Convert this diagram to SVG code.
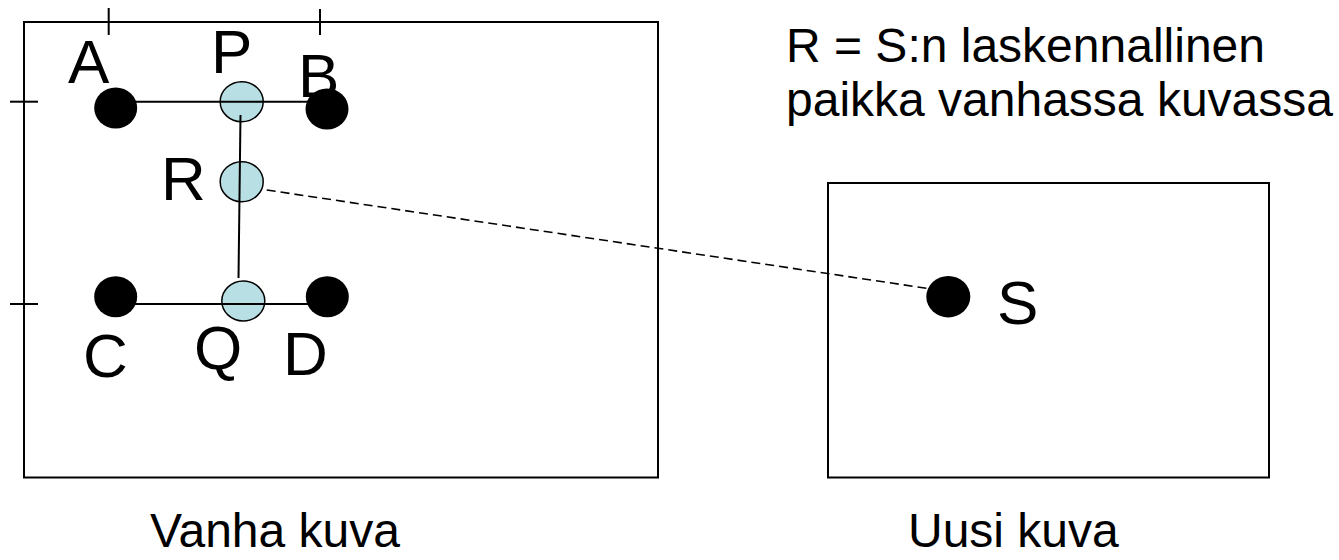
<svg xmlns="http://www.w3.org/2000/svg" width="1339" height="560" viewBox="0 0 1339 560">
  <style>
    .frame { fill: none; stroke: #000; stroke-width: 2; }
    .tick { stroke: #000; stroke-width: 2; }
    .link { stroke: #000; stroke-width: 2; fill: none; }
    .dash { stroke: #000; stroke-width: 1.6; fill: none; stroke-dasharray: 9 5; }
    .pt { fill: #000; }
    .ip { fill: #b8dfe3; stroke: #000; stroke-width: 1.5; }
    .lbl { font-family: "Liberation Sans", Arial, sans-serif; font-size: 62px; fill: #000; }
    .cap { font-family: "Liberation Sans", Arial, sans-serif; font-size: 48px; fill: #000; }
  </style>

  <!-- image frames -->
  <g id="old-image">
    <rect class="frame" x="24" y="22" width="634" height="455.5"/>
    <line class="tick" x1="108.7" y1="8" x2="108.7" y2="35"/>
    <line class="tick" x1="320" y1="9" x2="320" y2="35"/>
    <line class="tick" x1="10" y1="101.7" x2="38" y2="101.7"/>
    <line class="tick" x1="10" y1="304" x2="38" y2="304"/>
  </g>
  <g id="new-image">
    <rect class="frame" x="828" y="183" width="441" height="294.5"/>
  </g>

  <!-- interpolation points under the connectors -->
  <g id="node-P"><ellipse class="ip" cx="241.7" cy="101.7" rx="21.5" ry="20"/></g>
  <g id="node-R"><ellipse class="ip" cx="241.7" cy="181.7" rx="21.5" ry="20"/></g>
  <g id="node-Q"><ellipse class="ip" cx="243.3" cy="301" rx="21.5" ry="20"/></g>

  <g id="connectors">
    <line class="link" x1="115.7" y1="101.7" x2="327" y2="101.7"/>
    <line class="link" x1="115.7" y1="304" x2="327.3" y2="304"/>
    <line class="link" x1="240.5" y1="115" x2="238.5" y2="278"/>
    <line class="dash" x1="266.7" y1="190" x2="928" y2="288.5"/>
  </g>

  <!-- pixel samples -->
  <g id="node-A"><ellipse class="pt" cx="115.7" cy="108" rx="21.5" ry="20.5"/></g>
  <g id="node-B"><ellipse class="pt" cx="327" cy="109" rx="21.5" ry="20.5"/></g>
  <g id="node-C"><ellipse class="pt" cx="115.7" cy="296.7" rx="21.5" ry="20.5"/></g>
  <g id="node-D"><ellipse class="pt" cx="327.3" cy="296.7" rx="21.5" ry="20.5"/></g>
  <g id="node-S"><ellipse class="pt" cx="948.3" cy="296.7" rx="22" ry="20.7"/></g>

  <!-- point labels -->
  <g id="labels">
    <text class="lbl" x="68" y="83">A</text>
    <text class="lbl" x="211" y="73">P</text>
    <text class="lbl" x="298" y="97">B</text>
    <text class="lbl" x="161" y="200">R</text>
    <text class="lbl" x="83" y="377">C</text>
    <text class="lbl" x="194" y="369">Q</text>
    <text class="lbl" x="283" y="375">D</text>
    <text class="lbl" x="997" y="324">S</text>
  </g>

  <!-- captions -->
  <g id="captions">
    <text class="cap" x="786" y="62">R = S:n laskennallinen</text>
    <text class="cap" x="786" y="116">paikka vanhassa kuvassa</text>
    <text class="cap" x="150" y="547">Vanha kuva</text>
    <text class="cap" x="908" y="547">Uusi kuva</text>
  </g>
</svg>
